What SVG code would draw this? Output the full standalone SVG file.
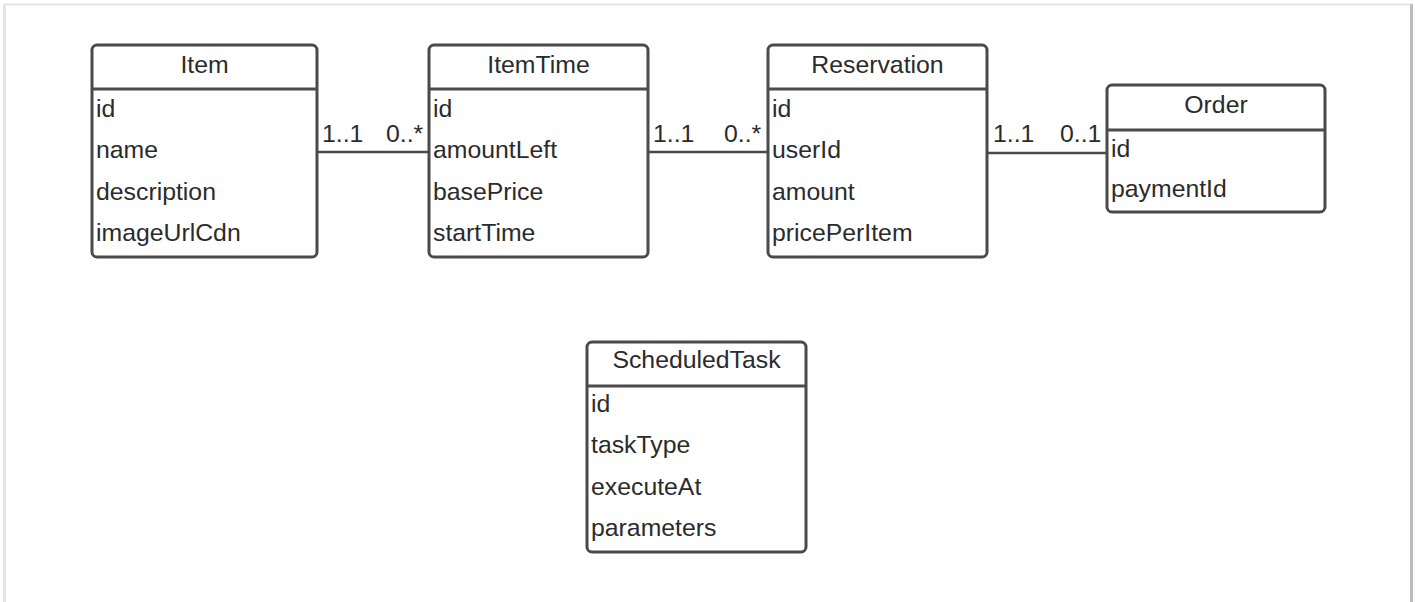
<svg xmlns="http://www.w3.org/2000/svg" width="1415" height="602" viewBox="0 0 1415 602">
<style>
.box{fill:#ffffff;stroke:#4a4a4a;stroke-width:3}
.sep{stroke:#4a4a4a;stroke-width:3}
.conn{stroke:#4a4a4a;stroke-width:2.5;fill:none}
text{font-family:"Liberation Sans",Arial,sans-serif;font-size:24.8px;fill:#2b2b2b}
.title{text-anchor:middle}
</style>
<rect x="0" y="0" width="1415" height="602" fill="#ffffff"/>
<g id="frame">
<line x1="4" y1="4.5" x2="1411" y2="4.5" stroke="#e6e6e6" stroke-width="2"/>
<line x1="4.5" y1="4" x2="4.5" y2="602" stroke="#e3e3e3" stroke-width="3"/>
<line x1="1411.5" y1="4" x2="1411.5" y2="602" stroke="#bcbcbc" stroke-width="3"/>
</g>
<g id="connectors">
<line class="conn" x1="318" y1="152" x2="430" y2="152"/>
<line class="conn" x1="648" y1="152" x2="768" y2="152"/>
<line class="conn" x1="987" y1="153" x2="1107" y2="153"/>
<text x="322" y="142">1..1</text>
<text x="386" y="142">0..*</text>
<text x="653" y="142">1..1</text>
<text x="724" y="142">0..*</text>
<text x="993" y="142">1..1</text>
<text x="1060" y="142">0..1</text>
</g>
<g id="Item">
<rect class="box" x="92" y="45" width="225" height="212" rx="5"/>
<line class="sep" x1="92" y1="89" x2="317" y2="89"/>
<text class="title" x="204.5" y="73">Item</text>
<text x="96" y="117">id</text>
<text x="96" y="158">name</text>
<text x="96" y="200">description</text>
<text x="96" y="241">imageUrlCdn</text>
</g>
<g id="ItemTime">
<rect class="box" x="429" y="45" width="219" height="212" rx="5"/>
<line class="sep" x1="429" y1="89" x2="648" y2="89"/>
<text class="title" x="538.5" y="73">ItemTime</text>
<text x="433" y="117">id</text>
<text x="433" y="158">amountLeft</text>
<text x="433" y="200">basePrice</text>
<text x="433" y="241">startTime</text>
</g>
<g id="Reservation">
<rect class="box" x="768" y="45" width="219" height="212" rx="5"/>
<line class="sep" x1="768" y1="89" x2="987" y2="89"/>
<text class="title" x="877.5" y="73">Reservation</text>
<text x="772" y="117">id</text>
<text x="772" y="158">userId</text>
<text x="772" y="200">amount</text>
<text x="772" y="241">pricePerItem</text>
</g>
<g id="Order">
<rect class="box" x="1107" y="85" width="218" height="127" rx="5"/>
<line class="sep" x1="1107" y1="130" x2="1325" y2="130"/>
<text class="title" x="1216" y="113">Order</text>
<text x="1111" y="157">id</text>
<text x="1111" y="197">paymentId</text>
</g>
<g id="ScheduledTask">
<rect class="box" x="587" y="342" width="219" height="210" rx="5"/>
<line class="sep" x1="587" y1="386" x2="806" y2="386"/>
<text class="title" x="696.5" y="368">ScheduledTask</text>
<text x="591" y="412">id</text>
<text x="591" y="453">taskType</text>
<text x="591" y="495">executeAt</text>
<text x="591" y="536">parameters</text>
</g>
</svg>
